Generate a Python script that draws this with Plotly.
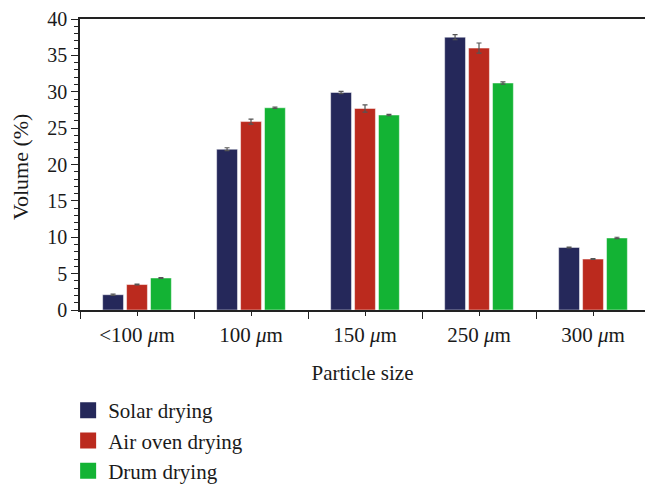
import plotly.graph_objects as go

categories = ["&lt;100 <i>μ</i>m", "100 <i>μ</i>m", "150 <i>μ</i>m", "250 <i>μ</i>m", "300 <i>μ</i>m"]
solar = [2.1, 22.1, 29.9, 37.5, 8.6]
solar_err = [0.1, 0.2, 0.15, 0.35, 0.05]
air_oven = [3.5, 25.9, 27.7, 36.0, 7.0]
air_oven_err = [0.05, 0.35, 0.5, 0.7, 0.05]
drum = [4.4, 27.8, 26.8, 31.2, 9.9]
drum_err = [0.05, 0.1, 0.1, 0.15, 0.1]

series = [
    ("Solar drying", solar, solar_err, "#25285A"),
    ("Air oven drying", air_oven, air_oven_err, "#BB2A1E"),
    ("Drum drying", drum, drum_err, "#13B334"),
]

xpos = list(range(len(categories)))
FONT = "Liberation Serif"

fig = go.Figure()
for name, vals, errs, col in series:
    fig.add_trace(go.Bar(
        x=xpos, y=vals, name=name, showlegend=False, legendgroup=name,
        marker=dict(color=col, line=dict(color="rgba(255,255,255,0.6)", width=0.8)),
        error_y=dict(type="data", array=errs, visible=True, color="#555555", thickness=1.2, width=2.5),
    ))
# legend swatches (legend-only entries, no data drawn)
for name, vals, errs, col in series:
    fig.add_trace(go.Scatter(
        x=[None], y=[None], name=name, mode="markers", legendgroup=name,
        marker=dict(symbol="square", size=16, color=col, line=dict(width=0)),
    ))

fig.update_layout(
    width=645, height=500,
    margin=dict(l=80, r=0, t=19, b=190),
    paper_bgcolor="white", plot_bgcolor="white",
    barmode="group", bargap=0.37, bargroupgap=0.13,
    font=dict(family=FONT, size=21, color="#1a1a1a"),
    showlegend=True,
    legend=dict(x=-0.021, y=-0.275, xanchor="left", yanchor="top",
                font=dict(family=FONT, size=21, color="#1a1a1a"),
                tracegroupgap=0, bgcolor="rgba(0,0,0,0)"),
    xaxis=dict(
        range=[-0.5, 4.456], tickmode="array", tickvals=xpos, ticktext=categories,
        ticks="outside", ticklen=4, tickwidth=1.2, tickcolor="#222",
        showline=True, linecolor="#222", linewidth=1.5, mirror=True,
        showgrid=False, zeroline=False, automargin=False,
        ticklabelstandoff=1,
        minor=dict(ticks="outside", tick0=-0.5, dtick=1, ticklen=7, tickwidth=1.2, tickcolor="#222", showgrid=False),
        title=dict(text="Particle size", standoff=19, font=dict(size=21)),
        tickfont=dict(size=21),
    ),
    yaxis=dict(
        range=[0, 40], tickmode="linear", tick0=0, dtick=5,
        ticks="outside", ticklen=7, tickwidth=1.2, tickcolor="#222",
        showline=True, linecolor="#222", linewidth=1.5,
        showgrid=False, zeroline=False, automargin=False,
        minor=dict(ticks="outside", dtick=1, ticklen=4, tickwidth=1, tickcolor="#222", showgrid=False),
        tickfont=dict(size=20),
    ),
    annotations=[dict(
        text="Volume (%)", textangle=-90, xref="paper", yref="paper",
        x=(20 - 80) / 565, y=0.491, xanchor="center", yanchor="middle",
        showarrow=False, font=dict(family=FONT, size=22, color="#1a1a1a"),
    )],
)

fig.write_html(
    "out.html",
    config={"displayModeBar": False},
    post_script="document.body.style.margin='0';document.body.style.overflow='hidden';",
)
